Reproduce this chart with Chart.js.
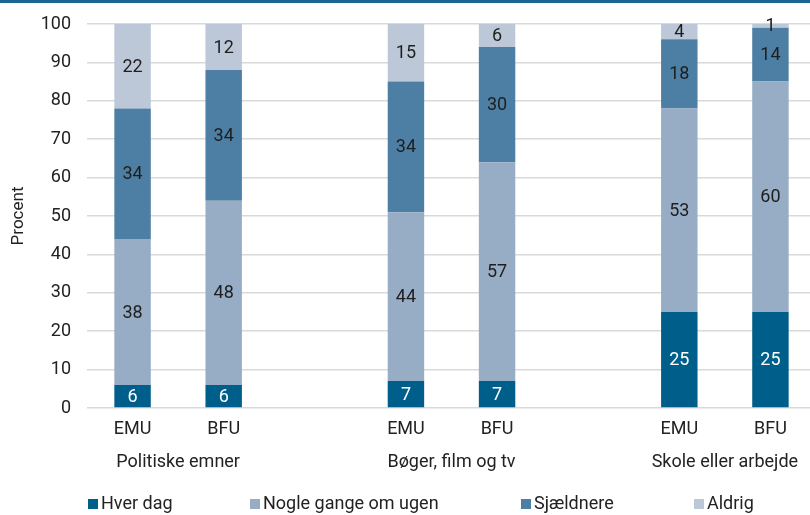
<!DOCTYPE html>
<html>
<head>
<meta charset="utf-8">
<script src="https://cdn.jsdelivr.net/npm/chart.js@4"></script>
<style>
  html, body { margin: 0; padding: 0; background: #fff; }
  #wrap { position: relative; width: 810px; height: 515px; overflow: hidden; }
  #topline { position: absolute; left: 0; top: 0; width: 810px; height: 3px; background: #1b6593; }
  canvas { position: absolute; left: 0; top: 0; }
  .lg { position: absolute; top: 492px; font: 18px Roboto, sans-serif; color: #222; white-space: nowrap; }
  .lg i { display: inline-block; width: 10px; height: 10px; margin-right: 3px; vertical-align: 0px; }
</style>
</head>
<body>
<div id="wrap">
  <canvas id="chart" width="816" height="515"></canvas>
  <div id="topline"></div>
  <div class="lg" style="left:88px"><i style="background:#005f8a"></i>Hver dag</div>
  <div class="lg" style="left:250px"><i style="background:#96adc5"></i>Nogle gange om ugen</div>
  <div class="lg" style="left:521px"><i style="background:#4d7fa5"></i>Sjældnere</div>
  <div class="lg" style="left:694px"><i style="background:#bcc8d8"></i>Aldrig</div>
</div>
<script>
// empty slots separate the three groups
const labels = ['EMU', 'BFU', '', 'EMU', 'BFU', '', 'EMU', 'BFU'];
const groups = ['Politiske emner', 'Bøger, film og tv', 'Skole eller arbejde'];
const hverDag = [6, 6, null, 7, 7, null, 25, 25];
const nogleGange = [38, 48, null, 44, 57, null, 53, 60];
const sjaeldnere = [34, 34, null, 34, 30, null, 18, 14];
const aldrig = [22, 12, null, 15, 6, null, 4, 1];
const yTicks = [0, 10, 20, 30, 40, 50, 60, 70, 80, 90, 100];

const FONT = 'Roboto, sans-serif';

const valueLabels = {
    id: 'valueLabels',
    afterDatasetsDraw(chart) {
        const ctx = chart.ctx;
        ctx.save();
        ctx.font = '18px ' + FONT;
        ctx.textAlign = 'center';
        ctx.textBaseline = 'middle';
        chart.data.datasets.forEach((ds, i) => {
            const meta = chart.getDatasetMeta(i);
            meta.data.forEach((bar, j) => {
                const v = ds.data[j];
                if (v == null) return;
                const p = bar.getProps(['x', 'y', 'base'], true);
                ctx.fillStyle = i === 0 ? '#ffffff' : '#1e1e1e';
                ctx.fillText(String(v), p.x, (p.y + p.base) / 2 + 1);
            });
        });
        ctx.restore();
    }
};

const groupLabels = {
    id: 'groupLabels',
    afterDraw(chart) {
        const ctx = chart.ctx;
        const x = chart.scales.x;
        ctx.save();
        ctx.font = '18px ' + FONT;
        ctx.fillStyle = '#222';
        ctx.textAlign = 'center';
        ctx.textBaseline = 'middle';
        groups.forEach((g, k) => {
            const a = x.getPixelForValue(k * 3);
            const b = x.getPixelForValue(k * 3 + 1);
            ctx.fillText(g, (a + b) / 2, 462);
        });
        ctx.restore();
    }
};

new Chart(document.getElementById('chart'), {
    type: 'bar',
    data: {
        labels: labels,
        datasets: [
            { label: 'Hver dag', data: hverDag, backgroundColor: '#005f8a' },
            { label: 'Nogle gange om ugen', data: nogleGange, backgroundColor: '#96adc5' },
            { label: 'Sjældnere', data: sjaeldnere, backgroundColor: '#4d7fa5' },
            { label: 'Aldrig', data: aldrig, backgroundColor: '#bcc8d8' }
        ]
    },
    options: {
        responsive: false,
        animation: false,
        layout: { padding: { top: 24, bottom: 66, left: 0, right: 0 } },
        datasets: { bar: { categoryPercentage: 1, barPercentage: 0.4 } },
        plugins: {
            legend: { display: false },
            tooltip: { enabled: false }
        },
        scales: {
            x: {
                stacked: true,
                grid: { display: false },
                border: { display: false },
                ticks: { color: '#222', font: { family: FONT, size: 18 }, padding: 3, maxRotation: 0, autoSkip: false },
                afterFit(s) { s.height = 41; s.paddingLeft = 0; s.paddingRight = 0; }
            },
            y: {
                stacked: true,
                min: 0,
                max: 100,
                afterBuildTicks(s) { s.ticks = yTicks.map(v => ({ value: v })); },
                grid: { color: '#d9d9d9', lineWidth: 1.5, drawTicks: false },
                border: { display: false },
                ticks: { color: '#222', font: { family: FONT, size: 18 }, padding: 16 },
                title: { display: true, text: 'Procent', color: '#222', font: { family: FONT, size: 17 }, padding: { top: 9, bottom: 0 } },
                afterFit(s) { s.width = 87; s.paddingTop = 0; s.paddingBottom = 0; }
            }
        }
    },
    plugins: [valueLabels, groupLabels]
});
</script>
</body>
</html>
